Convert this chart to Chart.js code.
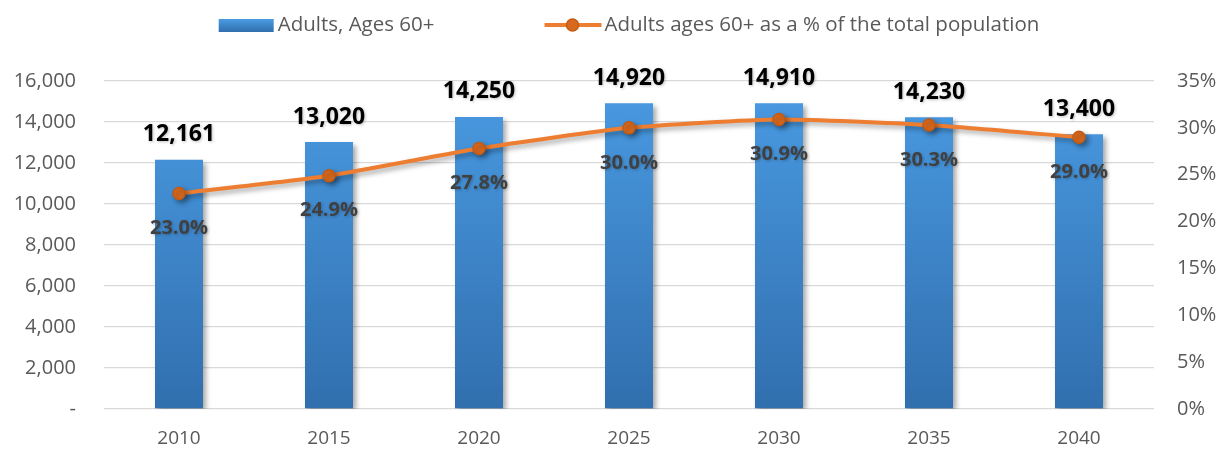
<!DOCTYPE html>
<html>
<head>
<meta charset="utf-8">
<script src="https://cdn.jsdelivr.net/npm/chart.js@4/dist/chart.umd.min.js"></script>
<style>
  html, body { margin: 0; background: #fff; }
  #wrap { width: 1219px; height: 449px; position: relative; }
</style>
</head>
<body>
<div id="wrap"><canvas id="chart"></canvas></div>
<script>
const years = ['2010', '2015', '2020', '2025', '2030', '2035', '2040'];
const adults60 = [12161, 13020, 14250, 14920, 14910, 14230, 13400];
const sharePct = [23.0, 24.9, 27.8, 30.0, 30.9, 30.3, 29.0];
const countMax = 16000, countStep = 2000;
const pctMax = 35, pctStep = 5;

const FONT = '"Open Sans", "Noto Sans", sans-serif';
const ORANGE = '#ED7D31';
const GREY = '#595959';

function barFill(ctx) {
    const area = ctx.chart.chartArea;
    if (!area) return '#3F8AD0';
    const g = ctx.chart.ctx.createLinearGradient(0, area.top, 0, area.bottom);
    g.addColorStop(0, '#4A9BE3');
    g.addColorStop(1, '#316FAE');
    return g;
}

// soft drop shadow under bars and the line
const shadowPlugin = {
    id: 'shadow',
    beforeDatasetDraw(chart) {
        const c = chart.ctx;
        c.save();
        c.shadowColor = 'rgba(0,0,0,0.35)';
        c.shadowBlur = 5;
        c.shadowOffsetX = 3;
        c.shadowOffsetY = 3;
    },
    afterDatasetDraw(chart) {
        chart.ctx.restore();
    }
};

// value labels: counts above bars, percentages below the points
const valueLabels = {
    id: 'valueLabels',
    afterDatasetsDraw(chart) {
        const c = chart.ctx;
        c.save();
        c.textAlign = 'center';
        c.textBaseline = 'middle';
        c.shadowColor = 'rgba(0,0,0,0.25)';
        c.shadowBlur = 3;
        c.shadowOffsetX = 1;
        c.shadowOffsetY = 1;

        const bars = chart.getDatasetMeta(0).data;
        c.font = 'bold 23px ' + FONT;
        c.fillStyle = '#000';
        bars.forEach((b, i) => {
            c.fillText(adults60[i].toLocaleString('en-US'), b.x, b.y - 25);
        });

        const pts = chart.getDatasetMeta(1).data;
        c.font = 'bold 20px ' + FONT;
        c.fillStyle = '#404040';
        pts.forEach((p, i) => {
            c.fillText(sharePct[i].toFixed(1) + '%', p.x, p.y + 35);
        });
        c.restore();
    }
};

// legend drawn across the top
const topLegend = {
    id: 'topLegend',
    afterDraw(chart) {
        const c = chart.ctx;
        const labels = chart.data.datasets.map(d => d.label);
        c.save();
        c.font = '20.5px ' + FONT;
        c.textBaseline = 'middle';
        const w1 = c.measureText(labels[0]).width;
        const w2 = c.measureText(labels[1]).width;
        const total = 55 + 4 + w1 + 110 + 57 + 3 + w2;
        const area = chart.chartArea;
        let x = (area.left + area.right) / 2 - total / 2;
        const y = 25;

        const g = c.createLinearGradient(0, y - 6, 0, y + 7);
        g.addColorStop(0, '#4A9BE3');
        g.addColorStop(1, '#316FAE');
        c.fillStyle = g;
        c.fillRect(x, y - 6, 55, 13);
        x += 59;
        c.fillStyle = GREY;
        c.fillText(labels[0], x, y);
        x += w1 + 110;

        c.strokeStyle = ORANGE;
        c.lineWidth = 4;
        c.beginPath();
        c.moveTo(x, y);
        c.lineTo(x + 57, y);
        c.stroke();
        c.beginPath();
        c.arc(x + 28, y, 6, 0, Math.PI * 2);
        c.fillStyle = '#D86A1F';
        c.fill();
        c.lineWidth = 1.5;
        c.strokeStyle = '#C55A11';
        c.stroke();
        x += 60;
        c.fillStyle = GREY;
        c.fillText(labels[1], x, y);
        c.restore();
    }
};

new Chart(document.getElementById('chart'), {
    data: {
        labels: years,
        datasets: [
            {
                type: 'bar',
                label: 'Adults, Ages 60+',
                data: adults60,
                yAxisID: 'y',
                backgroundColor: barFill,
                borderWidth: 0,
                categoryPercentage: 1,
                barPercentage: 0.32,
                order: 1
            },
            {
                type: 'line',
                label: 'Adults ages 60+ as a % of the total population',
                data: sharePct,
                yAxisID: 'y2',
                borderColor: ORANGE,
                borderWidth: 4,
                tension: 0.2,
                pointRadius: 6,
                pointBackgroundColor: '#D86A1F',
                pointBorderColor: '#C55A11',
                pointBorderWidth: 1.5,
                order: 0
            }
        ]
    },
    options: {
        responsive: true,
        maintainAspectRatio: false,
        animation: false,
        layout: { padding: { top: 81, left: 0, right: 0, bottom: 0 } },
        plugins: {
            legend: { display: false },
            tooltip: { enabled: false }
        },
        scales: {
            x: {
                grid: { display: false },
                border: { display: false },
                ticks: { color: GREY, font: { family: FONT, size: 19 }, padding: 10 },
                afterFit(s) { s.height = 40; }
            },
            y: {
                position: 'left',
                min: 0,
                max: countMax,
                ticks: {
                    stepSize: countStep,
                    color: GREY,
                    font: { family: FONT, size: 20 },
                    padding: 28,
                    callback: v => v === 0 ? '-' : v.toLocaleString('en-US')
                },
                grid: { color: '#D9D9D9', lineWidth: 1.3, drawTicks: false },
                border: { display: false },
                afterFit(s) { s.width = 104; }
            },
            y2: {
                position: 'right',
                min: 0,
                max: pctMax,
                ticks: {
                    stepSize: pctStep,
                    color: GREY,
                    font: { family: FONT, size: 20 },
                    padding: 23,
                    callback: v => v + '%'
                },
                grid: { display: false, drawTicks: false },
                border: { display: false },
                afterFit(s) { s.width = 65; }
            }
        }
    },
    plugins: [shadowPlugin, valueLabels, topLegend]
});
</script>
</body>
</html>
